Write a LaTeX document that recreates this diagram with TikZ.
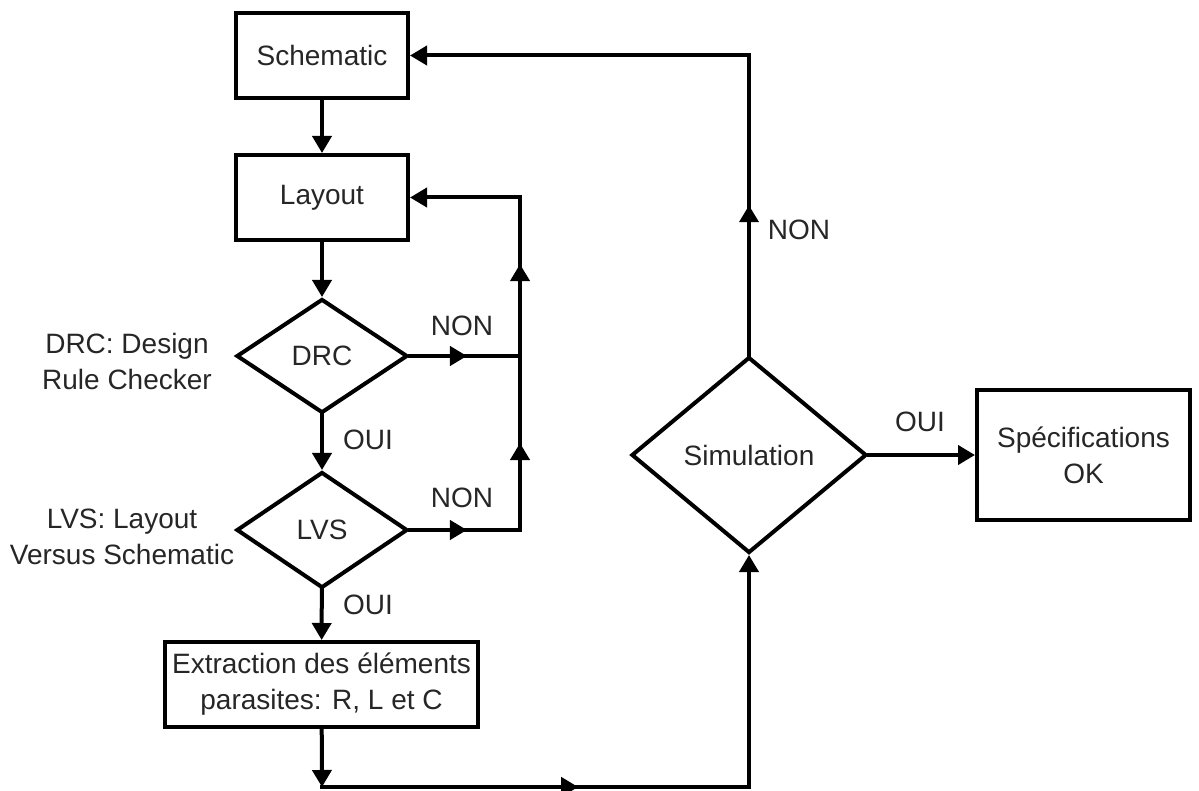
\documentclass[tikz,border=0pt]{standalone}
\usepackage{fontspec}
\setmainfont{Liberation Sans}
\usetikzlibrary{shapes.geometric,arrows.meta,decorations.markings}
\begin{document}
\begin{tikzpicture}[x=1pt,y=-1pt, line width=4pt, line cap=rect,
 every node/.style={font=\fontsize{28}{36}\selectfont, text=black!85},
 box/.style={draw=black, rectangle, inner sep=0pt, align=center},
 dec/.style={draw=black, diamond, inner sep=0pt, aspect=1.5},
 tip/.style={-{Triangle[length=17pt,width=19pt]}},
 midarrow/.style={postaction={decorate}, decoration={markings, mark=at position #1 with {\arrow{Triangle[length=17pt,width=19pt]}}}},
 lbl/.style={align=center}]
\useasboundingbox (0,0) rectangle (1199,791);
% nodes
\node[box, minimum width=172pt, minimum height=85pt] (sch) at (322,55.5) {Schematic};
\node[box, minimum width=172pt, minimum height=85pt] (lay) at (322,197.5) {Layout};
\node[dec, minimum width=171pt, minimum height=114pt] (drc) at (322,356) {DRC};
\node[dec, minimum width=171pt, minimum height=116pt] (lvs) at (322,530) {LVS};
\node[box, minimum width=313pt, minimum height=85pt] (ext) at (321.5,684.5) {Extraction des éléments\\parasites: R, L et C};
\node[dec, minimum width=235pt, minimum height=196pt] (sim) at (749,455) {Simulation};
\node[box, minimum width=213pt, minimum height=130pt] (spec) at (1083.5,455) {Spécifications\\OK};
% labels
\node[lbl] (ldrc) at (127,361) {DRC: Design\\Rule Checker};
\node[lbl] (llvs) at (122,537) {LVS: Layout\\Versus Schematic};
\node (n1) at (462,326) {NON};
\node (n2) at (462,498) {NON};
\node (o1) at (368,440) {OUI};
\node (o2) at (368,605) {OUI};
\node (o3) at (920,422) {OUI};
\node (n3) at (799,230) {NON};
% junctions
\coordinate (j0) at (520,197.5);
\coordinate (j1) at (520,356);
\coordinate (j2) at (520,530);
\coordinate (b1) at (322,787);
\coordinate (b2) at (749,787);
\coordinate (t1) at (749,55.5);
% connectors
\draw[tip] (sch) -- (lay);
\draw[tip] (lay) -- (drc);
\draw[tip] (drc) -- (lvs);
\draw[tip] (lvs) -- (ext);
\draw[midarrow=0.52] (drc.east) -- (j1);
\draw[midarrow=0.52] (lvs.east) -- (j2);
\draw[midarrow=0.5] (j2) -- (j1);
\draw[midarrow=0.58] (j1) -- (j0);
\draw[tip] (j0) -- (lay.east);
\draw[tip] (ext) -- (b1);
\draw[midarrow=0.6] (b1) -- (b2);
\draw[tip] (b2) -- (sim.south);
\draw[midarrow=0.5] (sim.north) -- (t1);
\draw[tip] (t1) -- (sch.east);
\draw[tip] (sim.east) -- (spec.west);
\end{tikzpicture}
\end{document}
